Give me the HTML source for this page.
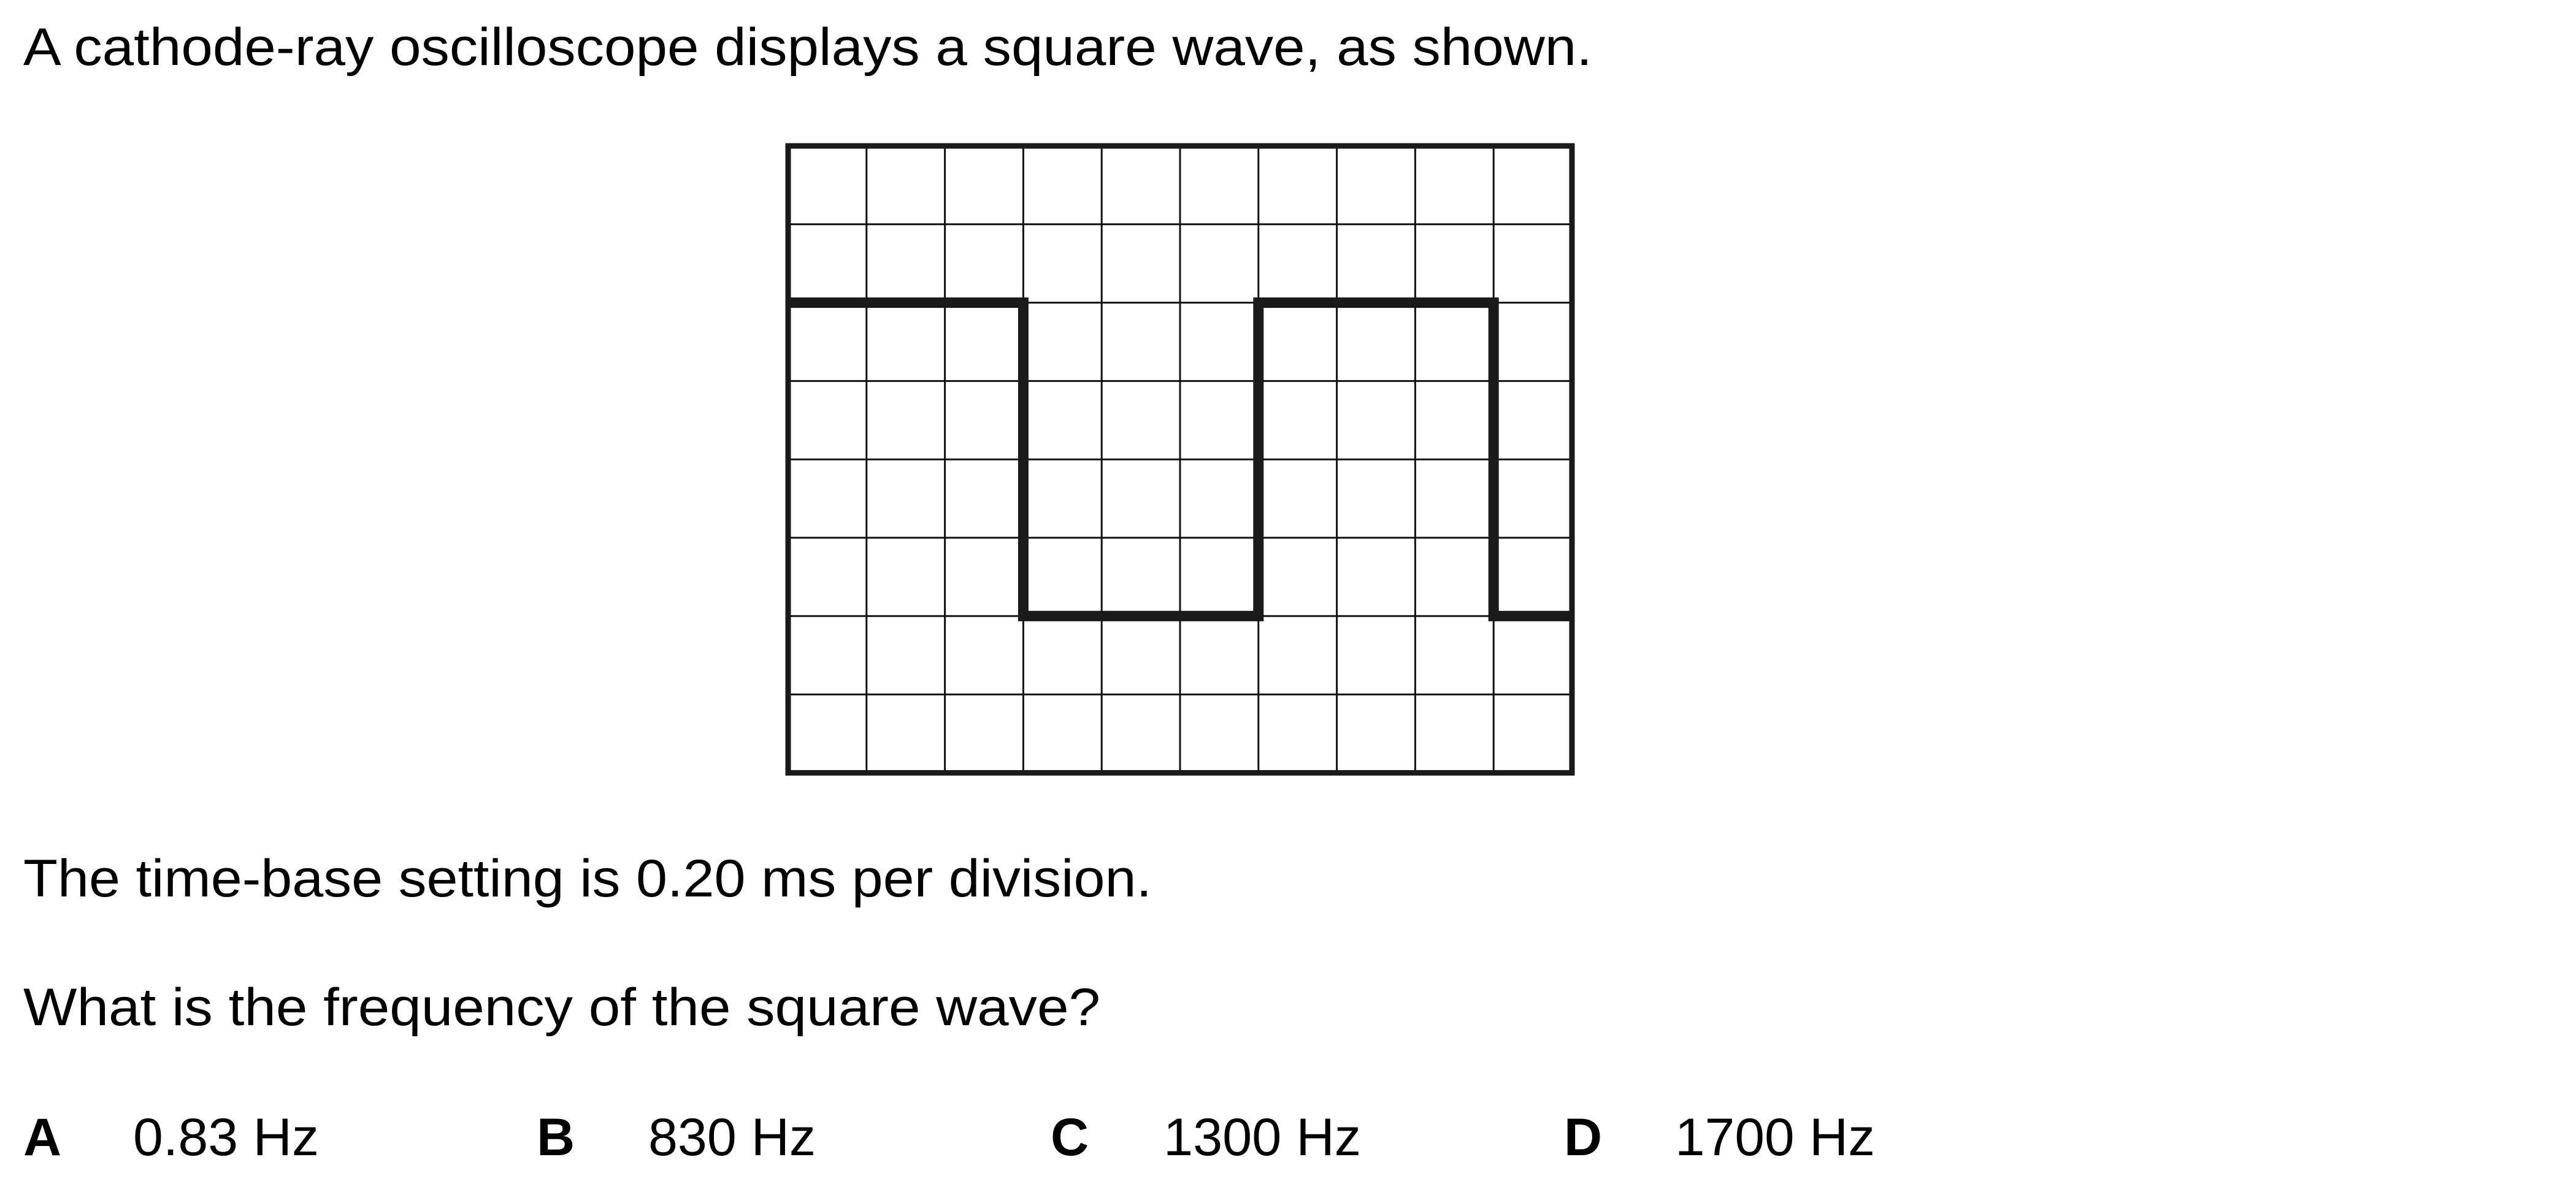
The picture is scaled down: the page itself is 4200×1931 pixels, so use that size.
<!DOCTYPE html>
<html><head><meta charset="utf-8"><style>
html,body{margin:0;padding:0;background:#fff;}
svg{display:block;}
text{font-family:"Liberation Sans",Arial,sans-serif;fill:#000;}
</style></head><body>
<svg width="4200" height="1931" viewBox="0 0 4200 1931">
<text x="38" y="106" font-size="86" textLength="2558" lengthAdjust="spacingAndGlyphs">A cathode-ray oscilloscope displays a square wave, as shown.</text>
<g id="scope"></g>
<text x="38" y="1462" font-size="86" textLength="1840" lengthAdjust="spacingAndGlyphs">The time-base setting is 0.20 ms per division.</text>
<text x="38" y="1672" font-size="86" textLength="1756" lengthAdjust="spacingAndGlyphs">What is the frequency of the square wave?</text>
<text x="38" y="1884" font-size="86" font-weight="bold">A</text>
<text x="217" y="1884" font-size="86" textLength="303" lengthAdjust="spacingAndGlyphs">0.83 Hz</text>
<text x="875" y="1884" font-size="86" font-weight="bold">B</text>
<text x="1057" y="1884" font-size="86" textLength="273" lengthAdjust="spacingAndGlyphs">830 Hz</text>
<text x="1713" y="1884" font-size="86" font-weight="bold">C</text>
<text x="1897" y="1884" font-size="86" textLength="322" lengthAdjust="spacingAndGlyphs">1300 Hz</text>
<text x="2550" y="1884" font-size="86" font-weight="bold">D</text>
<text x="2731" y="1884" font-size="86" textLength="326" lengthAdjust="spacingAndGlyphs">1700 Hz</text>
</svg>
<script>
const cols = 10;
const rows = 8;
// square wave: divisions where level changes, and levels (rows from top)
const edgeDivs = [0, 3, 6, 9, 10];
const levels = [2, 6, 2, 6];
const X0 = 1285, Y0 = 238, CELL = 127.8;
const sx = d => X0 + d * CELL;
const sy = r => Y0 + r * CELL;
const NS = 'http://www.w3.org/2000/svg';
const g = document.getElementById('scope');
function mk(tag, attrs){const e=document.createElementNS(NS,tag);for(const k in attrs)e.setAttribute(k,attrs[k]);g.appendChild(e);return e;}
for(let i=1;i<cols;i++){
  const l=mk('line',{x1:sx(i),y1:sy(0),x2:sx(i),y2:sy(rows),stroke:'#111','stroke-width':3});
  
  
}
for(let j=1;j<rows;j++){
  const l=mk('line',{x1:sx(0),y1:sy(j),x2:sx(cols),y2:sy(j),stroke:'#111','stroke-width':3});
  
  
}
let d='';
for(let k=0;k<levels.length;k++){
  const xa=sx(edgeDivs[k]), xb=sx(edgeDivs[k+1]), y=sy(levels[k]);
  d += (k===0?'M':'L')+xa+' '+y+' L'+xb+' '+y+' ';
}
const w=mk('path',{d:d,fill:'none',stroke:'#1a1a1a','stroke-width':17,'stroke-linejoin':'miter','stroke-linecap':'butt'});


const b=mk('rect',{x:sx(0),y:sy(0),width:sx(cols)-sx(0),height:sy(rows)-sy(0),fill:'none',stroke:'#1a1a1a','stroke-width':9});


</script>
</body></html>
